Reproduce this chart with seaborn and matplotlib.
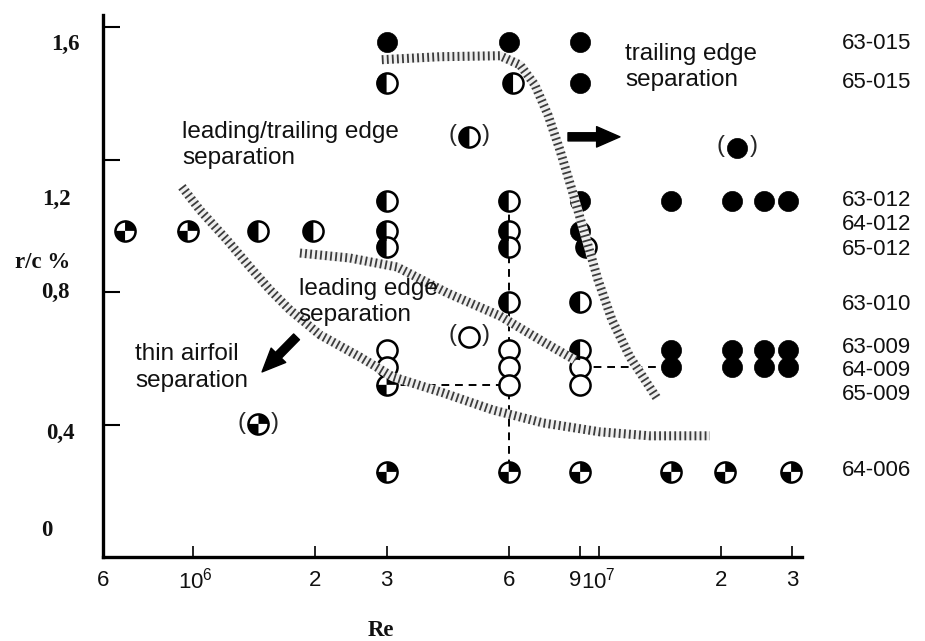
import numpy as np
import pandas as pd
import matplotlib
matplotlib.use("Agg")
import matplotlib.pyplot as plt
from matplotlib.path import Path
from matplotlib.markers import MarkerStyle
from matplotlib.ticker import NullLocator
import seaborn as sns

# ------------------------------------------------------------------ data
airfoil_names = ["63-015", "65-015", "63-012", "64-012", "65-012",
                 "63-010", "63-009", "64-009", "65-009", "64-006"]
airfoil_label_rc = [1.550, 1.432, 1.078, 1.003, 0.930,
                    0.764, 0.633, 0.562, 0.490, 0.260]

# F = trailing edge (full), H = leading/trailing edge (half),
# O = leading edge (open), Q = thin airfoil (quartered)
row_rc = [1.556, 1.432, 1.075, 0.985, 0.937, 0.770, 0.625, 0.573, 0.520, 0.257]
row_re = [
    [3e6, 6e6, 9e6],
    [3e6, 6.15e6, 9e6],
    [3e6, 6e6, 9e6, 1.51e7, 2.13e7, 2.55e7, 2.92e7],
    [6.8e5, 9.7e5, 1.45e6, 1.98e6, 3e6, 6e6, 9e6],
    [3e6, 6e6, 9.3e6],
    [6e6, 9e6],
    [3e6, 6e6, 9e6, 1.51e7, 2.13e7, 2.55e7, 2.92e7],
    [3e6, 6e6, 9e6, 1.51e7, 2.13e7, 2.55e7, 2.92e7],
    [3e6, 6e6, 9e6],
    [3e6, 6e6, 9e6, 1.51e7, 2.05e7, 2.98e7],
]
row_type = ["FFF", "HHF", "HHFFFFF", "QQHHHHF", "HHH", "HH",
            "OOHFFFF", "OOOFFFF", "QOO", "QQQQQQ"]

# uncertain (parenthesised) points
unc_re = [4.8e6, 2.19e7, 4.8e6, 1.45e6]
unc_rc = [1.269, 1.236, 0.665, 0.402]
unc_type = ["H", "F", "O", "Q"]

# hatched boundary bands
te_re = [2.92e6, 4.06e6, 5.71e6, 6.40e6, 6.96e6, 7.50e6, 8.02e6, 8.59e6,
         9.25e6, 9.96e6, 1.078e7, 1.194e7, 1.391e7]
te_rc = [1.502, 1.511, 1.514, 1.486, 1.426, 1.335, 1.230, 1.109,
         0.973, 0.837, 0.716, 0.604, 0.480]
thin_re = [9.39e5, 1.04e6, 1.212e6, 1.381e6, 1.547e6, 1.734e6, 2.056e6,
           2.579e6, 3.111e6, 4.132e6, 5.487e6, 7.287e6, 1.007e7, 1.338e7, 1.88e7]
thin_rc = [1.118, 1.048, 0.958, 0.876, 0.807, 0.746, 0.671,
           0.604, 0.544, 0.496, 0.444, 0.405, 0.378, 0.366, 0.366]
le_re = [1.835e6, 2.437e6, 3.182e6, 4.226e6, 5.709e6, 7.372e6, 8.738e6]
le_rc = [0.918, 0.903, 0.876, 0.798, 0.728, 0.647, 0.595]

# dashed guide lines
vdash_re = [6e6, 6e6]
vdash_rc = [1.075, 0.257]
hdash1_re = [3e6, 6e6]
hdash1_rc = [0.520, 0.520]
hdash2_re = [9e6, 1.51e7]
hdash2_rc = [0.573, 0.573]

xtick_vals = [6e5, 1e6, 2e6, 3e6, 6e6, 9e6, 1e7, 2e7, 3e7]
xtick_labels = ["6", r"$\mathregular{10^6}$", "2", "3", "6", "9",
                r"$\mathregular{10^7}$", "2", "3"]
ytick_vals = [0.4, 0.8, 1.2, 1.6]
ytick_labels = ["0,4", "0,8", "1,2", "1,6"]

# ------------------------------------------------------------------ frame
rows = []
for rc, res, types in zip(row_rc, row_re, row_type):
    for r, t in zip(res, types):
        rows.append((r, rc, t))
for r, rc, t in zip(unc_re, unc_rc, unc_type):
    rows.append((r, rc, t))
df = pd.DataFrame(rows, columns=["Re", "rc", "kind"])

sns.set_theme(style="white")
plt.rcParams["font.family"] = ["Liberation Sans", "DejaVu Sans"]
plt.rcParams["mathtext.fontset"] = "custom"
plt.rcParams["mathtext.rm"] = "Liberation Sans"

fig = plt.figure(figsize=(9.25, 6.41), dpi=100)
ax = fig.add_axes([103 / 925, 1 - 557 / 641, 699 / 925, 542 / 641])
ax.set_xscale("log")
ax.set_xlim(6e5, 3.17e7)
ax.set_ylim(0, 1.637)

S = 210
half_path = Path.wedge(90, 270)
quad_path = Path.make_compound_path(Path.wedge(0, 90), Path.wedge(180, 270))

# outline circles for non-full markers
base = df[df.kind.isin(["H", "O", "Q"])]
sns.scatterplot(data=base, x="Re", y="rc", marker="o", s=S, color="white",
                edgecolor="black", linewidth=1.8, ax=ax, zorder=3, legend=False)
sns.scatterplot(data=df[df.kind == "H"], x="Re", y="rc", marker=MarkerStyle(half_path),
                s=S, color="black", edgecolor="none", linewidth=0, ax=ax, zorder=4,
                legend=False)
sns.scatterplot(data=df[df.kind == "Q"], x="Re", y="rc", marker=MarkerStyle(quad_path),
                s=S, color="black", edgecolor="none", linewidth=0, ax=ax, zorder=4,
                legend=False)
sns.scatterplot(data=df[df.kind == "F"], x="Re", y="rc", marker="o", s=S, color="black",
                edgecolor="black", linewidth=0.5, ax=ax, zorder=4, legend=False)

# dashed guides
for xs, ys in [(vdash_re, vdash_rc), (hdash1_re, hdash1_rc), (hdash2_re, hdash2_rc)]:
    sns.lineplot(x=xs, y=ys, sort=False, estimator=None, color="black", lw=1.4,
                 linestyle=(0, (4, 3)), ax=ax, zorder=2)

# hatched bands
for xs, ys in [(te_re, te_rc), (thin_re, thin_rc), (le_re, le_rc)]:
    sns.lineplot(x=xs, y=ys, sort=False, estimator=None, color="#eeeeee", lw=6.5,
                 ax=ax, zorder=5, solid_capstyle="butt")
    sns.lineplot(x=xs, y=ys, sort=False, estimator=None, color="#3c3c3c", lw=6.5,
                 linestyle=(0, (0.2, 0.36)), dash_capstyle="butt", ax=ax, zorder=6)

# parentheses for uncertain points
for r, rc in zip(unc_re, unc_rc):
    ax.annotate("(", xy=(r, rc), xytext=(-12, 1), textcoords="offset points",
                ha="center", va="center", fontsize=17, zorder=7)
    ax.annotate(")", xy=(r, rc), xytext=(12, 1), textcoords="offset points",
                ha="center", va="center", fontsize=17, zorder=7)

# region texts
tkw = dict(ha="left", va="top", fontsize=17.5, linespacing=1.25, color="#111111", zorder=8)
ax.text(9.39e5, 1.318, "leading/trailing edge\nseparation", **tkw)
ax.text(1.161e7, 1.552, "trailing edge\nseparation", **tkw)
ax.text(1.82e6, 0.842, "leading edge\nseparation", **tkw)
ax.text(7.19e5, 0.645, "thin airfoil\nseparation", **tkw)

# arrows
akw = dict(arrowstyle="simple,head_length=1.2,head_width=1.05,tail_width=0.42",
           color="black", shrinkA=0, shrinkB=0, mutation_scale=14)
ax.annotate("", xy=(1.128e7, 1.269), xytext=(8.4e6, 1.269), arrowprops=akw, zorder=8)
ax.annotate("", xy=(1.48e6, 0.559), xytext=(1.80e6, 0.665), arrowprops=akw, zorder=8)

# airfoil labels at the right
for name, rc in zip(airfoil_names, airfoil_label_rc):
    ax.text(1.057, rc, name, transform=ax.get_yaxis_transform(), ha="left",
            va="center", fontsize=16, color="#111111", clip_on=False)

# axes styling
for side in ["top", "right"]:
    ax.spines[side].set_visible(False)
for side in ["left", "bottom"]:
    ax.spines[side].set_color("black")
    ax.spines[side].set_linewidth(2.4)
ax.xaxis.set_minor_locator(NullLocator())
ax.yaxis.set_minor_locator(NullLocator())
ax.set_xticks(xtick_vals[1:])
ax.set_xticklabels([""] * (len(xtick_vals) - 1))
ax.set_yticks(ytick_vals)
ax.set_yticklabels([""] * len(ytick_vals))
ax.tick_params(axis="x", direction="in", length=8, width=1.2, color="black", bottom=True)
ax.tick_params(axis="y", direction="in", length=12, width=1.5, color="black", left=True)
ax.set_xlabel("")
ax.set_ylabel("")

# x tick labels
for v, lab in zip(xtick_vals, xtick_labels):
    dx = -5 if (lab == "9") else (2 if "10^6" in lab else 0)
    ax.annotate(lab, xy=(v, 0), xycoords=("data", "axes fraction"),
                xytext=(dx, -24), textcoords="offset pixels", ha="center",
                va="center", fontsize=16, color="#111111", annotation_clip=False)

# y tick labels (serif, as in the original) and axis titles
skw = dict(ha="center", va="center", fontsize=16.5, fontweight="bold",
           family=["Liberation Serif", "DejaVu Serif"], color="#111111")
for lab, (px, py) in zip(["1,6", "1,2", "0,8", "0,4", "0"],
                         [(65, 44), (56, 199), (55, 292), (60, 433), (47, 531)]):
    fig.text(px / 925, 1 - py / 641, lab, **skw)
fig.text(43 / 925, 1 - 262 / 641, "r/c %", **skw)
fig.text(381 / 925, 1 - 631 / 641, "Re", **skw)

fig.savefig("out.png", dpi=100, facecolor="white")
